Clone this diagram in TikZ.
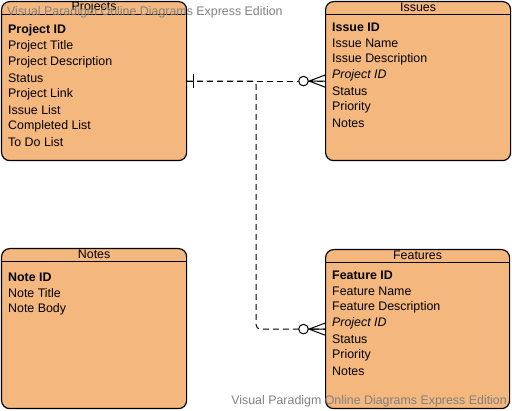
\documentclass[tikz,border=0pt]{standalone}
\usepackage{fontspec}
\setmainfont{Liberation Sans}
\definecolor{entfill}{RGB}{244,183,126}
\definecolor{wmark}{RGB}{128,128,128}
\tikzset{entity/.style={draw,fill=entfill,rounded corners=8pt,line width=1.2pt,minimum width=185pt,minimum height=#1,inner sep=0pt,anchor=north west},
	attr/.style={anchor=west,inner sep=0pt,font=\fontsize{12.4}{14}\selectfont},
	rel/.style={dash pattern=on 6pt off 4pt,line width=1pt}}
\begin{document}
\begin{tikzpicture}[x=1pt,y=-1pt]
		\useasboundingbox (0,0) rectangle (512,411);
		\node[entity=159pt] (proj) at (1,1) {};\node[entity=159pt] (iss) at (325,1) {};
		\node[entity=160pt] (note) at (1,248) {};\node[entity=159pt,minimum width=184pt] (feat) at (325,249) {};
		\foreach \e/\t in {proj/Projects,iss/Issues,note/Notes,feat/Features}{\draw[line width=1pt] ([yshift=-13.5pt]\e.north west)--([yshift=-13.5pt]\e.north east);\node[attr,anchor=center] (\e-t) at ([yshift=-6.5pt]\e.north) {\t};}
		\foreach \t [count=\i from 0] in {\textbf{Project ID},Project Title,Project Description,Status,Project Link,Issue List,Completed List,To Do List}{\node[attr] (proj-\i) at (8,30+16*\i) {\t};}
		\foreach \t [count=\i from 0] in {\textbf{Issue ID},Issue Name,Issue Description,\textit{Project ID},Status,Priority,Notes}{\node[attr] (iss-\i) at (332,27.5+16*\i) {\t};}
		\foreach \t [count=\i from 0] in {\textbf{Note ID},Note Title,Note Body}{\node[attr] (note-\i) at (8,277.5+16*\i) {\t};}
		\foreach \t [count=\i from 0] in {\textbf{Feature ID},Feature Name,Feature Description,\textit{Project ID},Status,Priority,Notes}{\node[attr] (feat-\i) at (332,275.5+16*\i) {\t};}
		% relations: one project -- many issues / features
		\draw[rel] (proj.east)--(iss.west);\draw[rel,rounded corners=4pt] (proj.east)--++(69,0)|-(feat.west);
		\draw[line width=1.2pt] ([xshift=6pt,yshift=-7pt]proj.east)--([xshift=6pt,yshift=7pt]proj.east);
		\foreach \e in {iss,feat}{\draw[fill=white,line width=1pt] ([xshift=-21.5pt]\e.west) circle (4.8pt);\draw[line width=1pt] ([yshift=6pt]\e.west)--([xshift=-16pt]\e.west)--([yshift=-6pt]\e.west) ([xshift=-16pt]\e.west)--(\e.west);}
		\node[attr,text=wmark] (wm1) at (7,12) {Visual Paradigm Online Diagrams Express Edition};
		\node[attr,text=wmark,anchor=east] (wm2) at (507,401.5) {Visual Paradigm Online Diagrams Express Edition};
	\end{tikzpicture}
\end{document}
